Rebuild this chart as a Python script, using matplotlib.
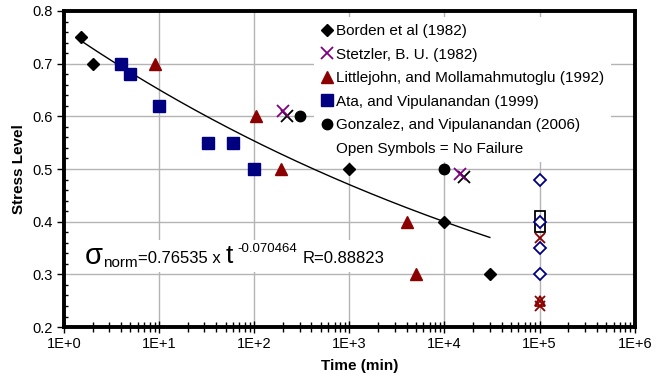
import matplotlib
matplotlib.use("Agg")
import matplotlib.pyplot as plt
import numpy as np
from matplotlib.lines import Line2D
from matplotlib.patches import Rectangle
from matplotlib.ticker import FixedLocator, FuncFormatter, MultipleLocator, NullFormatter

plt.rcParams["font.family"] = ["Liberation Sans", "DejaVu Sans"]

# failure data (filled symbols)
borden_t = [1.5, 2, 1000, 10000, 30000]
borden_s = [0.75, 0.70, 0.50, 0.40, 0.30]
stetzler_t = [200, 14500]
stetzler_s = [0.61, 0.49]
stetzler_b_t = [220, 16000]
stetzler_b_s = [0.60, 0.485]
little_t = [9, 105, 190, 4000, 5000]
little_s = [0.70, 0.60, 0.50, 0.40, 0.30]
ata_t = [4, 5, 10, 33, 60, 100]
ata_s = [0.70, 0.68, 0.62, 0.55, 0.55, 0.50]
gonz_t = [300, 10000]
gonz_s = [0.60, 0.50]

# no failure data (open symbols at 1E+5 min)
open_dia_t = [1e5, 1e5, 1e5, 1e5]
open_dia_s = [0.48, 0.40, 0.35, 0.30]
open_sq_t = [1e5, 1e5]
open_sq_s = [0.41, 0.39]
red_x_t = [1e5, 1e5, 1e5]
red_x_s = [0.37, 0.25, 0.24]
open_tri_t = [1e5]
open_tri_s = [0.25]

# power law trendline sigma = A * t^B
fit_a = 0.76535
fit_b = -0.070464
fit_r = 0.88823
fit_range = (1.5, 30000)

# x axis decades
decades = [0, 1, 2, 3, 4, 5, 6]

NAVY = "#000080"
DRED = "#8B0000"
PURPLE = "#800080"

fig = plt.figure(figsize=(6.66, 3.79), dpi=100)
ax = fig.add_axes([0.096, 0.137, 0.857, 0.834])

ax.set_xscale("log")
ax.set_xlim(10.0 ** decades[0], 10.0 ** decades[-1])
ax.set_ylim(0.2, 0.8)

ax.grid(True, which="major", color="#b4b4b4", linewidth=1.0, zorder=0)

t_fit = np.logspace(np.log10(fit_range[0]), np.log10(fit_range[1]), 200)
ax.plot(t_fit, fit_a * t_fit ** fit_b, color="black", linewidth=1.0, zorder=2)

ax.plot(borden_t, borden_s, "D", color="black", markersize=6.5, linestyle="none", zorder=3)
ax.plot(stetzler_b_t, stetzler_b_s, "x", color="black", markersize=8, mew=1.3, linestyle="none", zorder=3)
ax.plot(stetzler_t, stetzler_s, "x", color=PURPLE, markersize=8, mew=1.3, linestyle="none", zorder=3)
ax.plot(little_t, little_s, "^", color=DRED, markersize=8.5, linestyle="none", zorder=3)
ax.plot(ata_t, ata_s, "s", color=NAVY, markersize=9, linestyle="none", zorder=3)
ax.plot(gonz_t, gonz_s, "o", color="black", markersize=7.5, linestyle="none", zorder=3)

ax.plot(open_sq_t, open_sq_s, "s", mfc="none", mec="black", markersize=7, mew=1.3, linestyle="none", zorder=3)
ax.plot(open_dia_t, open_dia_s, "D", mfc="white", mec=NAVY, markersize=6.5, mew=1.3, linestyle="none", zorder=4)
ax.plot(red_x_t, red_x_s, "x", color=DRED, markersize=7, mew=1.3, linestyle="none", zorder=4)
ax.plot(open_tri_t, open_tri_s, "^", mfc="none", mec=DRED, markersize=7, mew=1.3, linestyle="none", zorder=4)

# axes styling
for side in ["left", "bottom", "right", "top"]:
    ax.spines[side].set_linewidth(2.8)
    ax.spines[side].set_zorder(8)

major_x = [10.0 ** d for d in decades]
minor_x = [m * 10.0 ** d for d in decades[:-1] for m in range(2, 10)]
ax.xaxis.set_major_locator(FixedLocator(major_x))
ax.xaxis.set_minor_locator(FixedLocator(minor_x))
ax.xaxis.set_major_formatter(FuncFormatter(lambda v, p: "1E+%d" % round(np.log10(v))))
ax.xaxis.set_minor_formatter(NullFormatter())
ax.yaxis.set_major_locator(MultipleLocator(0.1))
ax.yaxis.set_minor_locator(MultipleLocator(0.02))
ax.yaxis.set_major_formatter(FuncFormatter(lambda v, p: "%.1f" % v))

ax.tick_params(axis="y", which="major", direction="out", length=5, width=1, labelsize=10.5, pad=3)
ax.tick_params(axis="y", which="minor", direction="in", length=3, width=1)
ax.tick_params(axis="x", which="major", direction="inout", length=9, width=1, labelsize=10.5, pad=3)
ax.tick_params(axis="x", which="minor", direction="inout", length=7, width=1)

ax.set_xlabel("Time (min)", fontsize=11, fontweight="bold")
ax.set_ylabel("Stress Level", fontsize=11, fontweight="bold")
ax.xaxis.set_label_coords(0.518, -0.1)
ax.yaxis.set_label_coords(-0.066, 0.5)

# legend
handles = [
    Line2D([], [], marker="D", color="black", linestyle="none", markersize=6.5),
    Line2D([], [], marker="x", color=PURPLE, linestyle="none", markersize=8, mew=1.3),
    Line2D([], [], marker="^", color=DRED, linestyle="none", markersize=8.5),
    Line2D([], [], marker="s", color=NAVY, linestyle="none", markersize=8.5),
    Line2D([], [], marker="o", color="black", linestyle="none", markersize=7.5),
    Line2D([], [], linestyle="none"),
]
labels = [
    "Borden et al (1982)",
    "Stetzler, B. U. (1982)",
    "Littlejohn, and Mollamahmutoglu (1992)",
    "Ata, and Vipulanandan (1999)",
    "Gonzalez, and Vipulanandan (2006)",
    "Open Symbols = No Failure",
]
leg = ax.legend(handles, labels, loc="upper left", bbox_to_anchor=(0.438, 0.98),
                fontsize=11, frameon=True, facecolor="white", edgecolor="none",
                framealpha=1, fancybox=False, handlelength=0.8, handletextpad=0.2,
                labelspacing=0.62, borderpad=0.45, borderaxespad=0)
leg.set_zorder(5)

# trendline equation, pieces laid out left to right along one baseline
fig.canvas.draw()
renderer = fig.canvas.get_renderer()
to_axes = ax.transAxes.inverted()
base_x, base_y = ax.transAxes.transform((0.037, 0.198))

pieces = [
    # text, size, baseline shift (px), gap before (px)
    ("σ", 21, 0, 0),
    ("norm", 11, -3, 0),
    ("=%.5f x" % fit_a, 12, 1, 0),
    ("t", 19, 1, 5),
    ("%.6f" % fit_b, 9.5, 12, 5),
    ("R=%.5f" % fit_r, 12, 1, 5),
]
texts = []
cur_x = base_x
for s, size, dy, gap in pieces:
    cur_x += gap
    ax_x, ax_y = to_axes.transform((cur_x, base_y + dy))
    t = ax.text(ax_x, ax_y, s, fontsize=size, transform=ax.transAxes,
                ha="left", va="baseline", zorder=7)
    cur_x = t.get_window_extent(renderer).x1
    texts.append(t)

boxes = [t.get_window_extent(renderer) for t in texts]
x0 = min(b.x0 for b in boxes) - 5
x1 = max(b.x1 for b in boxes) + 5
y0 = min(b.y0 for b in boxes) - 2
y1 = max(b.y1 for b in boxes) + 2
(ax0, ay0), (ax1, ay1) = to_axes.transform([(x0, y0), (x1, y1)])
ax.add_patch(Rectangle((ax0, ay0), ax1 - ax0, ay1 - ay0, transform=ax.transAxes,
                       facecolor="white", edgecolor="none", zorder=6))

fig.savefig("out.png", dpi=100)
